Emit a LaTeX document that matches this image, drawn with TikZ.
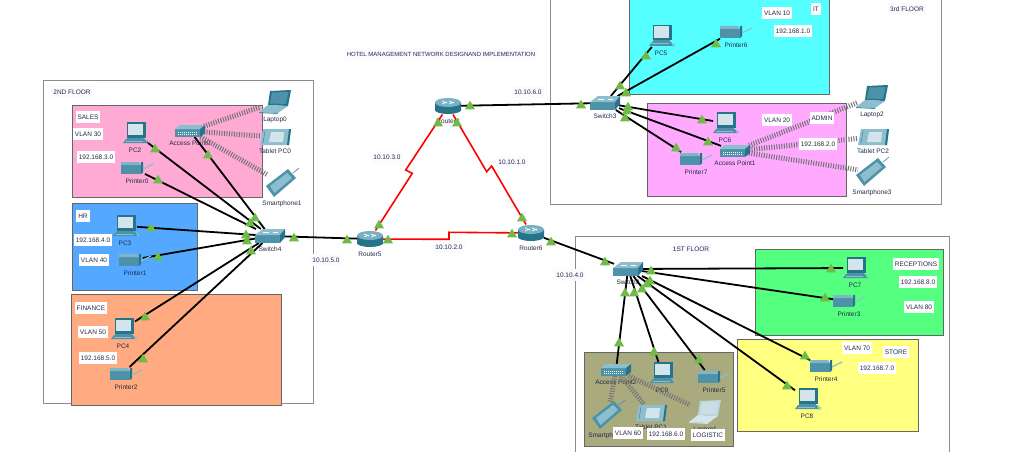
\documentclass[tikz,border=0pt]{standalone}
\usepackage{fontspec}
\setmainfont{Liberation Sans}
\usetikzlibrary{shapes.geometric}

\definecolor{tealmain}{RGB}{78,146,170}
\definecolor{tealdark}{RGB}{38,116,138}
\definecolor{teallight}{RGB}{140,190,205}
\definecolor{screenc}{RGB}{212,228,236}
\definecolor{textc}{RGB}{35,42,70}
\definecolor{linkup}{RGB}{112,186,72}
\definecolor{salesc}{RGB}{255,170,212}
\definecolor{hrc}{RGB}{85,168,255}
\definecolor{financec}{RGB}{255,170,128}
\definecolor{itc}{RGB}{85,255,255}
\definecolor{adminc}{RGB}{255,170,255}
\definecolor{recc}{RGB}{85,255,128}
\definecolor{storec}{RGB}{255,255,128}
\definecolor{logisticc}{RGB}{170,170,127}

\tikzset{
  devlabel/.style={font=\fontsize{6.5}{7}\selectfont, text=textc, inner sep=0pt, text height=5pt, text depth=1.5pt},
  dev/.style={inner sep=0pt, outer sep=0pt},
  pcdev/.style={dev, minimum width=24pt, minimum height=22pt, label={[devlabel, label distance=3.5pt]below:#1}},
  printerdev/.style={dev, minimum width=24pt, minimum height=14pt, label={[devlabel, label distance=3.5pt, xshift=4pt]below:#1}},
  routerdev/.style={dev, minimum width=26pt, minimum height=17pt, label={[devlabel, label distance=4pt]below:#1}},
  switchdev/.style={dev, minimum width=28pt, minimum height=14pt, label={[devlabel, label distance=3pt]below:#1}},
  apdev/.style={dev, minimum width=28pt, minimum height=12pt, label={[devlabel, label distance=3pt]below:#1}},
  laptopdev/.style={dev, minimum width=30pt, minimum height=22pt, label={[devlabel, label distance=3pt]below:#1}},
  tabletdev/.style={dev, minimum width=30pt, minimum height=17pt, label={[devlabel, label distance=3pt]below:#1}},
  phonedev/.style={dev, minimum width=28pt, minimum height=26pt, label={[devlabel, label distance=4pt]below:#1}},
  floorbox/.style={draw=black!45, line width=1pt},
  roombox/.style={draw=black!60, line width=1pt},
  tagbox/.style={fill=white, text=textc, font=\fontsize{6.5}{7}\selectfont, inner xsep=2pt, inner ysep=0pt, minimum height=12pt},
  nettag/.style={tagbox, fill=blue!2},
  upmark/.style={regular polygon, regular polygon sides=3, fill=linkup, inner sep=0pt, minimum size=11.5pt, yshift=-1.4pt},
  wire/.style={draw=black, line width=1.8pt},
  serial/.style={draw=red, line width=1.6pt},
  radio/.style={draw=black!55, line width=5pt, dash pattern=on 1pt off 1.5pt},
  pics/pcicon/.style={code={
    \fill[tealdark] (-8,-11) rectangle (11,4.5);
    \fill[screenc] (-7,-9.5) rectangle (7.5,2);
    \fill[tealmain] (-8,4.5) rectangle (9,6);
    \fill[tealmain] (-9,6) -- (10,6) -- (12,10) -- (-12,10) -- cycle;
    \fill[teallight] (-9,7.5) rectangle (8,8.5);
    \draw[teallight, line width=.7pt] (11,7) -- (14,9) -- (12,11);
  }},
  pics/printericon/.style={code={
    \fill[tealmain] (-12,-3) rectangle (8,6);
    \fill[teallight!80!tealmain] (-12,-6) -- (6,-6) -- (8,-3) -- (-12,-3) -- cycle;
    \fill[tealdark] (8,-6) -- (10,-6) -- (10,4) -- (8,6) -- cycle;
    \draw[teallight, line width=1.2pt] (10,1) -- (20,-4);
  }},
  pics/routericon/.style={code={
    \shade[left color=tealdark, middle color=white, right color=tealdark] (-13,-3) rectangle (13,4);
    \shade[left color=tealdark, middle color=white, right color=tealdark] (0,4) ellipse [x radius=13pt, y radius=4pt];
    \fill[teallight!70!tealmain] (0,-3.5) ellipse [x radius=13pt, y radius=4.5pt];
    \draw[white, line width=.7pt] (-6,-5) -- (-1,-3) (1,-5) -- (6,-3) (-6,-2) -- (-1,-4) (1,-2) -- (6,-4);
  }},
  pics/switchicon/.style={code={
    \fill[tealmain] (-15,-1) rectangle (10,7);
    \fill[teallight] (-15,-1) -- (-7,-7) -- (15,-7) -- (10,-1) -- cycle;
    \fill[tealdark] (10,-1) -- (15,-7) -- (15,1) -- (10,7) -- cycle;
    \draw[white, line width=.6pt] (-7,-3.5) -- (-1,-3.5) (3,-3.5) -- (8,-3.5);
  }},
  pics/apicon/.style={code={
    \fill[tealmain] (-15,-2) rectangle (10,6);
    \fill[teallight] (-15,-2) -- (-11,-6) -- (15,-6) -- (10,-2) -- cycle;
    \fill[tealdark] (10,-2) -- (15,-6) -- (15,2) -- (10,6) -- cycle;
    \draw[white, line width=1pt, dash pattern=on 1pt off 1pt] (-12,1) -- (8,1) (-12,3.5) -- (8,3.5);
  }},
  pics/laptopicon/.style={code={
    \fill[tealdark] (-5,-11) -- (16,-12) -- (13,4) -- (-7,3) -- cycle;
    \fill[tealmain] (-3,-9.5) -- (13.5,-10) -- (11,2) -- (-5,1.5) -- cycle;
    \fill[teallight] (-16,10) -- (-7,3) -- (13,4) -- (3,11) -- cycle;
    \fill[tealmain] (-16,10) -- (3,11) -- (3,12) -- (-16,11) -- cycle;
  }},
  pics/tableticon/.style={code={
    \fill[teallight] (-12,-8) -- (16,-8) -- (14,8) -- (-15,8) -- cycle;
    \fill[tealdark] (14,-8) -- (16,-8) -- (14,8) -- (12,8) -- cycle;
    \fill[screenc] (-4,-5) -- (9,-5) -- (8,5) -- (-6,5) -- cycle;
    \draw[tealmain, line width=.6pt] (-10,-6) -- (-12,6);
  }},
  pics/phoneicon/.style={code={
    \fill[tealmain] (-16,3) -- (6,-14) -- (14,-5) -- (-8,14) -- cycle;
    \fill[teallight] (-12,3) -- (5,-10) -- (10,-5) -- (-7.5,10) -- cycle;
    \draw[tealmain, line width=.7pt] (11,-10) -- (17,-15);
  }}
}

\begin{document}
\begin{tikzpicture}[x=1pt, y=-1pt]

        \clip (0,0) rectangle (1012,452);
        \fill[white] (0,0) rectangle (1012,452);

        \draw[floorbox] (43,81) rectangle (313,403);
        \draw[floorbox] (550,-5) rectangle (941,204);
        \draw[floorbox] (575,236) rectangle (949,470);

        \filldraw[roombox, fill=salesc] (72,105) rectangle (262,197);
        \filldraw[roombox, fill=hrc] (72,203) rectangle (197,290);
        \filldraw[roombox, fill=financec] (71,294) rectangle (281,405);
        \filldraw[roombox, fill=itc] (629,0) rectangle (829,94);
        \filldraw[roombox, fill=adminc] (647,103) rectangle (846,196);
        \filldraw[roombox, fill=recc] (755,249) rectangle (943,335);
        \filldraw[roombox, fill=storec] (737,339) rectangle (918,431);
        \filldraw[roombox, fill=logisticc] (584,352) rectangle (733,446);

        \node[routerdev=Router4] (router4) at (448,106) {};
        \node[routerdev=Router5] (router5) at (370,239) {};
        \node[routerdev=Router6] (router6) at (531,233) {};

        \node[switchdev=Switch4] (switch4) at (270,236) {};
        \node[switchdev=Switch3] (switch3) at (605,103) {};
        \node[switchdev=Switch2] (switch2) at (628,269) {};

        \node[pcdev=PC2] (pc2) at (135,133) {};
        \node[pcdev=PC3] (pc3) at (125,226) {};
        \node[pcdev=PC4] (pc4) at (123,329) {};
        \node[pcdev=PC5] (pc5) at (661,36) {};
        \node[pcdev=PC6] (pc6) at (725,123) {};
        \node[pcdev=PC7] (pc7) at (855,268) {};
        \node[pcdev=PC8] (pc8) at (807,399) {};
        \node[pcdev=PC9] (pc9) at (662,373) {};

        \node[printerdev=Printer0] (printer0) at (133,168) {};
        \node[printerdev=Printer1] (printer1) at (131,260) {};
        \node[printerdev=Printer2] (printer2) at (122,374) {};
        \node[printerdev=Printer3] (printer3) at (845,301) {};
        \node[printerdev=Printer4] (printer4) at (822,366) {};
        \node[printerdev=Printer5] (printer5) at (710,377) {};
        \node[printerdev=Printer6] (printer6) at (732,32) {};
        \node[printerdev=Printer7] (printer7) at (692,159) {};

        \node[apdev=Access Point0] (ap0) at (190,131) {};
        \node[apdev=Access Point1] (ap1) at (735,151) {};
        \node[apdev=Access Point2] (ap2) at (616,370) {};

        \node[laptopdev=Laptop0] (laptop0) at (275,102) {};
        \node[laptopdev=Laptop1] (laptop1) at (705,412) {};
        \node[laptopdev=Laptop2] (laptop2) at (872,97) {};
        \node[tabletdev=Tablet PC0] (tablet0) at (275,137) {};
        \node[tabletdev=Tablet PC1] (tablet1) at (651,413) {};
        \node[tabletdev=Tablet PC2] (tablet2) at (873,137) {};
        \node[phonedev=Smartphone1] (phone1) at (282,183) {};
        \node[phonedev=Smartphone2] (phone2) at (608,415) {};
        \node[phonedev=Smartphone3] (phone3) at (872,172) {};

        \coordinate (zig45a) at (405.7,170);
        \coordinate (zig45b) at (412.3,173.3);
        \coordinate (zig46a) at (486.7,171.7);
        \coordinate (zig46b) at (491.7,166);
        \coordinate (zig56a) at (449,239.3);
        \coordinate (zig56b) at (449,232.3);

        \draw[serial] (router4) -- (zig45a) -- (zig45b) -- (router5);
        \draw[serial] (router4) -- (zig46a) -- (zig46b) -- (router6);
        \draw[serial] (router5) -- (zig56a) -- (zig56b) -- (router6);

        \begin{scope}[every edge/.style={radio}]
          \path (ap0) edge (laptop0);
          \path (ap0) edge (tablet0);
          \path (ap0) edge (phone1);
          \path (ap1) edge (laptop2);
          \path (ap1) edge (tablet2);
          \path (ap1) edge (phone3);
          \path (ap2) edge (phone2);
          \path (ap2) edge (tablet1);
          \path (ap2) edge (laptop1);
        \end{scope}

        \begin{scope}[every edge/.style={wire}]
          \path (router5) edge (switch4);
          \path (router4) edge (switch3);
          \path (router6) edge (switch2);
          \path (switch4) edge (pc2);
          \path (switch4) edge (printer0);
          \path (switch4) edge (ap0);
          \path (switch4) edge (pc3);
          \path (switch4) edge (printer1);
          \path (switch4) edge (pc4);
          \path (switch4) edge (printer2);
          \path (switch3) edge (pc5);
          \path (switch3) edge (printer6);
          \path (switch3) edge (pc6);
          \path (switch3) edge (ap1);
          \path (switch3) edge (printer7);
          \path (switch2) edge (pc7);
          \path (switch2) edge (printer3);
          \path (switch2) edge (printer4);
          \path (switch2) edge (pc8);
          \path (switch2) edge (printer5);
          \path (switch2) edge (pc9);
          \path (switch2) edge (ap2);
        \end{scope}

        \foreach \n in {router4,router5,router6} \pic at (\n) {routericon};
        \foreach \n in {switch2,switch3,switch4} \pic at (\n) {switchicon};
        \foreach \n in {pc2,pc3,pc4,pc5,pc6,pc7,pc8,pc9} \pic at (\n) {pcicon};
        \foreach \n in {printer0,printer1,printer2,printer3,printer4,printer5,printer6,printer7} \pic at (\n) {printericon};
        \foreach \n in {ap0,ap1,ap2} \pic at (\n) {apicon};
        \foreach \n in {laptop0,laptop2} \pic at (\n) {laptopicon};
        \foreach \n in {tablet0,tablet1,tablet2} \pic at (\n) {tableticon};
        \foreach \n in {phone1,phone2,phone3} \pic at (\n) {phoneicon};

        \begin{scope}
          \colorlet{tealdark}{tealdark!30!white}
          \colorlet{tealmain}{tealmain!30!white}
          \colorlet{teallight}{teallight!40!white}
          \pic at (laptop1) {laptopicon};
        \end{scope}

        \foreach \x/\y [count=\i] in {155/148,158/179,208/154,255/217,250/222,151/227,246/234,247/240,251/250,
          294/237,158/256,145/316,143/358,438/122,457/122,470/105,581/104,379/224,388/239,347/239,512/233,
          522/217,551/241,620/85,626/92,646/55,716/43,628/106,627/110,625/117,702/119,708/141,676/147,605/261,
          651/270,650/280,647/283,642/288,634/292,625/292,619/342,654/351,699/359,787/385,805/355,831/268,825/297}
          \node[upmark] (up\i) at (\x,\y) {};

        \node[nettag, font=\fontsize{6}{6}\selectfont] (title) at (441,54) {HOTEL MANAGEMENT NETWORK DESIGNAND IMPLEMENTATION};
        \node[nettag] (floor2) at (72,92) {2ND FLOOR};
        \node[nettag] (floor3) at (907,9) {3rd FLOOR};
        \node[nettag] (floor1) at (691,249) {1ST FLOOR};

        \node[nettag] (net103) at (387,157) {10.10.3.0};
        \node[nettag] (net101) at (512,162) {10.10.1.0};
        \node[nettag] (net106) at (528,92) {10.10.6.0};
        \node[nettag] (net102) at (449,247) {10.10.2.0};
        \node[nettag] (net104) at (570,275) {10.10.4.0};
        \node[nettag] (net105) at (326,260) {10.10.5.0};

        \node[tagbox] (sales) at (88,117) {SALES};
        \node[tagbox] (vlan30) at (88,134) {VLAN 30};
        \node[tagbox] (ip3) at (96,157) {192.168.3.0};
        \node[tagbox] (hr) at (83,216) {HR};
        \node[tagbox] (ip4) at (93,240) {192.168.4.0};
        \node[tagbox] (vlan40) at (94,260) {VLAN 40};
        \node[tagbox] (finance) at (91,308) {FINANCE};
        \node[tagbox] (vlan50) at (93,332) {VLAN 50};
        \node[tagbox] (ip5) at (98,358) {192.168.5.0};
        \node[tagbox] (it) at (816,9) {IT};
        \node[tagbox] (vlan10) at (777,13) {VLAN 10};
        \node[tagbox] (ip1) at (793,31) {192.168.1.0};
        \node[tagbox] (vlan20) at (777,120) {VLAN 20};
        \node[tagbox] (admin) at (822,118) {ADMIN};
        \node[tagbox] (ip2) at (818,144) {192.168.2.0};
        \node[tagbox] (receptions) at (916,264) {RECEPTIONS};
        \node[tagbox] (ip8) at (918,282) {192.168.8.0};
        \node[tagbox] (vlan80) at (919,307) {VLAN 80};
        \node[tagbox] (vlan70) at (857,348) {VLAN 70};
        \node[tagbox] (store) at (896,352) {STORE};
        \node[tagbox] (ip7) at (877,368) {192.168.7.0};
        \node[tagbox] (vlan60) at (628,433) {VLAN 60};
        \node[tagbox] (ip6) at (666,434) {192.168.6.0};
        \node[tagbox] (logistic) at (708,435) {LOGISTIC};

\end{tikzpicture}
\end{document}
